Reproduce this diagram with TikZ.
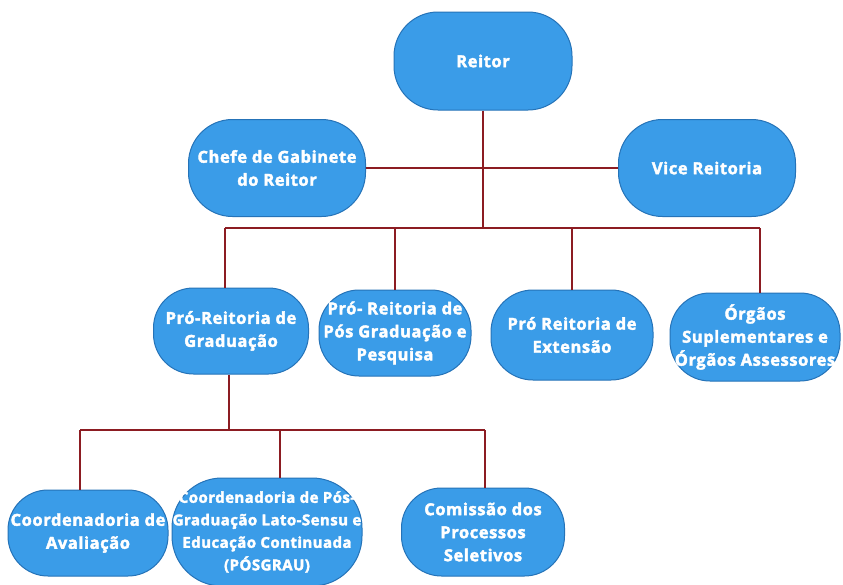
\documentclass[tikz,border=0pt]{standalone}
\usepackage{fontspec}
\setmainfont{Open Sans}[BoldFeatures={FakeBold=2.4}]
\definecolor{boxfill}{HTML}{3A9CE8}
\definecolor{boxline}{HTML}{2573B8}
\definecolor{linkred}{HTML}{8C1C22}
\begin{document}
\begin{tikzpicture}[x=1pt,y=-1pt,
  ob/.style n args={3}{rectangle, draw=boxline, line width=1pt, fill=boxfill,
    minimum width=#1, minimum height=#2, rounded corners=#3, inner sep=0pt,
    align=center, text=white,
    font=\fontsize{16.5}{23}\selectfont\bfseries\addfontfeatures{LetterSpace=3.5}},
  smalltext/.style={font=\fontsize{15}{22.5}\selectfont\bfseries\addfontfeatures{LetterSpace=3}},
  link/.style={draw=linkred, line width=1.6pt}]
\useasboundingbox (0,0) rectangle (843,584);
\fill[white] (0,0) rectangle (843,584);

% nodes
\node[ob={178pt}{98pt}{44pt}] (reitor) at (483,61) {Reitor};
\node[ob={177pt}{97pt}{44pt}] (chefe) at (277,168) {Chefe de Gabinete\\do Reitor};
\node[ob={177pt}{97pt}{44pt}] (vice) at (707,168) {Vice Reitoria};
\node[ob={155pt}{86pt}{40pt}] (grad) at (231,331) {Pró-Reitoria de\\Graduação};
\node[ob={152pt}{86pt}{40pt}] (pos) at (395,333) {Pró- Reitoria de\\Pós Graduação e\\Pesquisa};
\node[ob={162pt}{90pt}{42pt}] (ext) at (572,335) {Pró Reitoria de\\Extensão};
\node[ob={170pt}{88pt}{40pt}] (org) at (755,337) {Órgãos\\Suplementares e\\Órgãos Assessores};
\node[ob={160pt}{86pt}{40pt}] (aval) at (88,533) {Coordenadoria de\\Avaliação};
\node[ob={190pt}{108pt}{50pt}, smalltext] (posgrau) at (267,532) {Coordenadoria de Pós-\\Graduação Lato-Sensu e\\Educação Continuada\\(PÓSGRAU)};
\node[ob={163pt}{88pt}{40pt}] (com) at (483,532) {Comissão dos\\Processos\\Seletivos};

% bus coordinates
\coordinate (b1) at (483,228);
\coordinate (b1l) at (225,228);
\coordinate (b1r) at (760,228);
\coordinate (b2) at (229,430);
\coordinate (b2l) at (80,430);
\coordinate (b2r) at (485,430);
\coordinate (b2m) at (280,430);

% connectors
\draw[link] (reitor.south) -- (b1);
\draw[link] (chefe.east) -- (vice.west);
\draw[link] (b1l) -- (b1r);
\draw[link] (b1l) -- (b1l |- grad.north);
\draw[link] (pos.north |- b1) -- (pos.north);
\draw[link] (ext.north |- b1) -- (ext.north);
\draw[link] (b1r) -- (b1r |- org.north);
\draw[link] (b2 |- grad.south) -- (b2);
\draw[link] (b2l) -- (b2r);
\draw[link] (b2l) -- (b2l |- aval.north);
\draw[link] (b2m) -- (b2m |- posgrau.north);
\draw[link] (b2r) -- (b2r |- com.north);
\end{tikzpicture}
\end{document}
